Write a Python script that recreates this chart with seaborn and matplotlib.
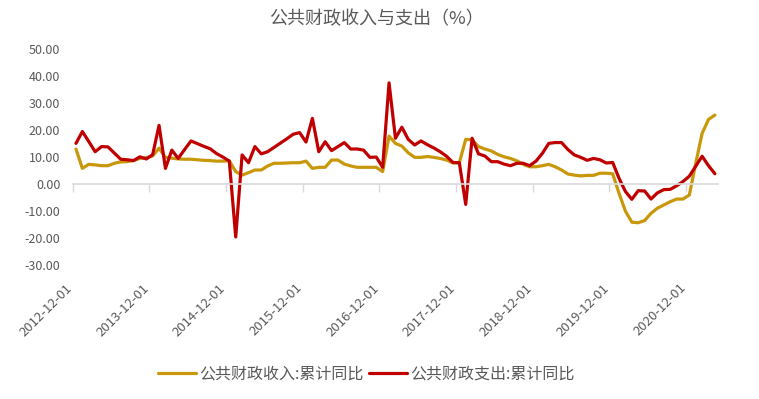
import numpy as np
import pandas as pd
import seaborn as sns
import matplotlib.pyplot as plt
from matplotlib import transforms

# monthly, 2012-12 .. 2021-04
months = pd.date_range("2012-12-01", "2021-04-01", freq="MS").strftime("%Y-%m-%d").tolist()

revenue = [13.0, 5.8, 7.3, 7.1, 6.8, 6.8, 7.7, 8.2, 8.3, 8.7, 9.5, 9.8,
           10.4, 13.3, 9.9, 9.6, 9.3, 9.2, 9.2, 9.0, 8.8, 8.7, 8.5, 8.5,
           8.6, 4.6, 3.3, 4.2, 5.2, 5.2, 6.7, 7.7, 7.7, 7.8, 7.9, 7.9,
           8.5, 5.8, 6.2, 6.2, 8.9, 8.9, 7.4, 6.7, 6.2, 6.2, 6.2, 6.2,
           4.6, 17.8, 15.1, 14.1, 11.6, 9.9, 9.9, 10.2, 9.9, 9.5, 8.9, 7.8,
           7.9, 16.6, 16.4, 13.9, 13.0, 12.3, 11.0, 10.1, 9.5, 8.6, 7.3, 6.4,
           6.4, 6.8, 7.3, 6.4, 5.2, 3.7, 3.3, 3.0, 3.2, 3.2, 4.0, 4.0,
           3.8, -3.5, -10.1, -14.2, -14.4, -13.6, -10.9, -9.0, -7.8, -6.6, -5.6, -5.6,
           -4.1, 7.7, 18.8, 24.0, 25.6]

expenditure = [15.1, 19.5, 15.8, 12.0, 13.9, 13.8, 11.5, 9.2, 9.0, 8.7, 10.1, 9.3,
               10.9, 21.8, 5.8, 12.6, 9.5, 12.8, 16.0, 15.0, 14.0, 13.1, 11.3, 10.0,
               8.5, -19.7, 10.8, 7.9, 13.9, 11.2, 12.0, 13.6, 15.2, 16.8, 18.5, 19.1,
               15.6, 24.4, 12.0, 15.7, 12.4, 13.9, 15.4, 13.0, 13.0, 12.6, 9.9, 10.0,
               6.2, 37.6, 17.0, 21.1, 16.6, 14.5, 16.0, 14.6, 13.4, 12.0, 10.3, 8.0,
               7.9, -7.6, 17.0, 11.2, 10.4, 8.3, 8.3, 7.4, 6.8, 7.7, 7.7, 6.8,
               8.5, 11.4, 15.1, 15.4, 15.4, 12.8, 10.8, 9.9, 8.8, 9.5, 9.0, 7.8,
               8.0, 2.1, -2.8, -5.7, -2.5, -2.6, -5.6, -3.3, -2.1, -2.0, -0.7, 0.9,
               2.9, 6.6, 10.3, 6.8, 3.8]

series_names = ["公共财政收入:累计同比", "公共财政支出:累计同比"]
title = "公共财政收入与支出（%）"

df = pd.concat([
    pd.DataFrame({"idx": range(len(months)), "value": revenue, "series": series_names[0]}),
    pd.DataFrame({"idx": range(len(months)), "value": expenditure, "series": series_names[1]}),
])

sns.set_theme(style="white")
plt.rcParams["font.family"] = ["Noto Sans CJK SC", "DejaVu Sans"]
plt.rcParams["axes.unicode_minus"] = False

text_color = "#595959"
grid_color = "#D9D9D9"

fig = plt.figure(figsize=(7.59, 3.99), dpi=100)
ax = fig.add_axes([0.0959, 0.3366, 0.8502, 0.5394])

sns.lineplot(data=df, x="idx", y="value", hue="series", palette=["#C8980A", "#C00000"],
             linewidth=2.3, ax=ax)

ax.set_xlim(-0.5, len(months) - 0.5)
ax.set_ylim(-30, 50)
yt = np.arange(-30, 51, 10)
ax.set_yticks(yt, labels=[f"{v:.2f}" for v in yt])
ax.tick_params(axis="y", length=0, pad=9, labelsize=9, labelcolor=text_color)
ax.set_xlabel("")
ax.set_ylabel("")

for s in ["left", "top", "right"]:
    ax.spines[s].set_visible(False)
ax.spines["bottom"].set_position(("data", 0))
ax.spines["bottom"].set_color(grid_color)
ax.spines["bottom"].set_linewidth(1.2)

xt = np.arange(-0.5, len(months), 12)
ax.set_xticks(xt)
ax.tick_params(axis="x", bottom=True, length=6, width=1, color=grid_color,
               direction="out", labelbottom=False)

# labels sit below the plot, not on the zero line
sec = ax.secondary_xaxis(0)
sec.set_xticks(xt, labels=[months[int(t + 0.5)] for t in xt])
sec.tick_params(length=0, pad=12, labelsize=9.5, labelcolor=text_color)
sec.spines["bottom"].set_visible(False)
shift = transforms.ScaledTranslation(2 / 100, 0, fig.dpi_scale_trans)
for lab in sec.get_xticklabels():
    lab.set_rotation(45)
    lab.set_ha("right")
    lab.set_transform(lab.get_transform() + shift)

sns.move_legend(ax, "center", bbox_to_anchor=(0.455, -0.51), ncol=2, frameon=False,
                title=None, fontsize=11.5, handlelength=2.4, columnspacing=0.3,
                handletextpad=0.2, labelcolor=text_color)

fig.text(376 / 759, 1 - 19 / 399, title, ha="center", va="center", fontsize=13, color=text_color)

fig.savefig("out.png", dpi=100)
